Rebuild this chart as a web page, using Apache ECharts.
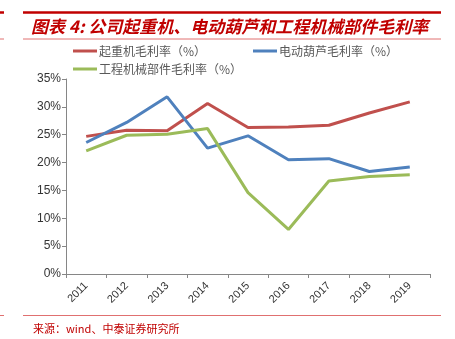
<!DOCTYPE html>
<html><head><meta charset="utf-8">
<script src="https://cdn.jsdelivr.net/npm/echarts@6/dist/echarts.min.js"></script>
<style>html,body{margin:0;padding:0;background:#fff}#c{width:455px;height:339px}</style>
</head><body><div id="c"></div>
<script>
var years = ['2011','2012','2013','2014','2015','2016','2017','2018','2019'];
var crane = [24.7, 25.8, 25.7, 30.6, 26.3, 26.4, 26.7, 28.9, 30.9];
var hoist = [23.6, 27.2, 31.8, 22.6, 24.8, 20.5, 20.7, 18.4, 19.2];
var parts = [22.1, 24.9, 25.1, 26.1, 14.6, 8.0, 16.7, 17.5, 17.8];
var yTicks = [0, 5, 10, 15, 20, 25, 30, 35];
var names = ['起重机毛利率（%）', '电动葫芦毛利率（%）', '工程机械部件毛利率（%）'];
var colors = ['#C0504D', '#4F81BD', '#9BBB59'];
var titleText = '图表 4: 公司起重机、电动葫芦和工程机械部件毛利率';
var sourceText = '来源：wind、中泰证券研究所';

var chart = echarts.init(document.getElementById('c'));
var red = '#C00000';
function hline(x1, x2, y, w, c){
  return {type:'line', shape:{x1:x1,y1:y,x2:x2,y2:y}, style:{stroke:c, lineWidth:w}, silent:true};
}
function mkSeries(name, data, color){
  return {name:name, type:'line', data:data, symbol:'none', smooth:false,
    lineStyle:{color:color, width:3}, itemStyle:{color:color}};
}
function mkLegend(name, left, top){
  return {data:[{name:name}], left:left, top:top, padding:0, itemWidth:24, itemHeight:3, icon:'rect',
    textStyle:{fontSize:12, color:'#595959', fontFamily:'Noto Sans CJK SC', padding:[0,0,0,-3]}};
}
chart.setOption({
  animation:false,
  color: colors,
  title:{text:titleText, left:31, top:18, padding:0,
    textStyle:{fontSize:17, fontWeight:'bold', fontStyle:'italic', color:red, fontFamily:'Noto Sans CJK SC'}},
  legend:[mkLegend(names[0], 73, 45), mkLegend(names[1], 253, 45), mkLegend(names[2], 73, 63)],
  grid:{left:66, right:25, top:79, bottom:65},
  xAxis:{type:'category', data:years, boundaryGap:true,
    axisLine:{lineStyle:{color:'#868686', width:1}},
    axisTick:{show:true, alignWithLabel:false, length:4, lineStyle:{color:'#868686'}},
    axisLabel:{rotate:45, fontSize:11, color:'#333', fontFamily:'Liberation Sans', margin:10}
  },
  yAxis:{type:'value', min:yTicks[0], max:yTicks[yTicks.length-1], interval:5,
    axisLine:{show:true, lineStyle:{color:'#868686', width:1}},
    axisTick:{show:true, length:4, lineStyle:{color:'#868686'}},
    splitLine:{show:false},
    axisLabel:{formatter:'{value}%', fontSize:12, color:'#333', fontFamily:'Liberation Sans', margin:5}
  },
  series:[mkSeries(names[0], crane, colors[0]), mkSeries(names[1], hoist, colors[1]), mkSeries(names[2], parts, colors[2])],
  graphic:[
    hline(23, 441, 12.5, 2.5, red),
    hline(0, 4, 12.5, 2.5, red),
    hline(23, 441, 39, 1, '#E07070'),
    hline(0, 4, 39, 1, '#E07070'),
    hline(23, 441, 315.5, 1, '#E07070'),
    hline(0, 4, 315.5, 1, '#E07070'),
    {type:'text', left:33, top:323, style:{text:sourceText, fill:red, fontSize:11, fontFamily:'Noto Sans CJK SC'}, silent:true}
  ]
});
</script></body></html>
